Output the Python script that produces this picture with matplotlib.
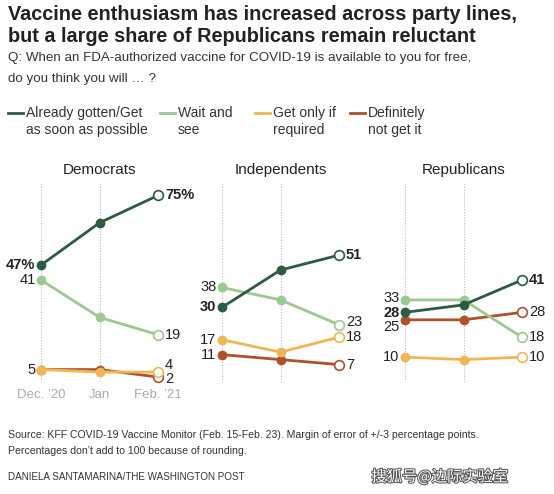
import matplotlib.pyplot as plt
import matplotlib.patheffects as pe

plt.rcParams['font.family'] = ['Liberation Sans', 'DejaVu Sans']

months = ['Dec. \u201920', 'Jan', 'Feb. \u201921']
panels = ['Democrats', 'Independents', 'Republicans']
series = ['Already gotten/Get\nas soon as possible', 'Wait and\nsee',
          'Get only if\nrequired', 'Definitely\nnot get it']
colors = ['#2c5b41', '#9cc98f', '#f0b654', '#b0512c']

dem = [[47, 64, 75], [41, 26, 19], [5, 4, 4], [5, 5, 2]]
ind = [[30, 45, 51], [38, 33, 23], [17, 12, 18], [11, 9, 7]]
rep = [[28, 31, 41], [33, 33, 18], [10, 9, 10], [25, 25, 28]]
data = [dem, ind, rep]

# end labels: (text, y position of label) for left / right
left_labels = [
    [('47%', 47), ('41', 41), None, ('5', 5)],
    [('30', 30), ('38', 38), ('17', 17), ('11', 11)],
    [('28', 27.7), ('33', 33.6), ('10', 10), ('25', 22.0)],
]
right_labels = [
    [('75%', 75), ('19', 19), ('4', 6.9), ('2', 1.4)],
    [('51', 51), ('23', 24), ('18', 18), ('7', 7)],
    [('41', 41), ('18', 18), ('10', 10), ('28', 28)],
]

W, H = 554, 494
fig = plt.figure(figsize=(W / 100, H / 100), dpi=100)
txt = '#222222'

fig.text(8 / W, 1 - 15 / H, 'Vaccine enthusiasm has increased across party lines,',
         fontsize=14.3, fontweight='bold', color=txt, va='center')
fig.text(8 / W, 1 - 37 / H, 'but a large share of Republicans remain reluctant',
         fontsize=14.3, fontweight='bold', color=txt, va='center')
fig.text(8 / W, 1 - 58 / H, 'Q: When an FDA-authorized vaccine for COVID-19 is available to you for free,',
         fontsize=9.65, color='#333333', va='center')
fig.text(8 / W, 1 - 79 / H, 'do you think you will \u2026 ?',
         fontsize=9.65, color='#333333', va='center')

# legend
leg_x = [8, 160, 255, 350]
for lx, lab, c in zip(leg_x, series, colors):
    fig.add_artist(plt.Line2D([lx / W, (lx + 15) / W], [1 - 113 / H] * 2, color=c, lw=2))
    fig.text((lx + 18) / W, 1 - 106 / H, lab, fontsize=10, color='#333333',
             va='top', linespacing=1.25)

ax_left = [41, 222, 405]
ax_w = 117
y_top, y_bot = 183, 382
for k in range(3):
    ax = fig.add_axes([ax_left[k] / W, 1 - y_bot / H, ax_w / W, (y_bot - y_top) / H])
    ax.set_xlim(0, 2)
    ax.set_ylim(0, 80)
    ax.axis('off')
    for xi in range(3):
        ax.plot([xi, xi], [0, 80], color='#bbbbbb', lw=0.8, ls=(0, (1, 1.5)), zorder=0)
    for s in [3, 2, 1, 0]:
        vals = data[k][s]
        ax.plot(range(3), vals, color=colors[s], lw=2, clip_on=False, zorder=2 + (3 - s))
        ax.plot([0, 1], vals[:2], 'o', color=colors[s], ms=6, clip_on=False, zorder=3 + (3 - s))
        ax.plot([2], vals[2:], 'o', mfc='white', mec=colors[s], mew=1.2, ms=7,
                clip_on=False, zorder=3 + (3 - s))
    for s in range(4):
        w = 'bold' if s == 0 else 'normal'
        lab = left_labels[k][s]
        if lab:
            ax.annotate(lab[0], (0, lab[1]), xytext=(-4, 0), textcoords='offset points',
                        ha='right', va='center', fontsize=10.5, fontweight=w, color=txt)
        lab = right_labels[k][s]
        ax.annotate(lab[0], (2, lab[1]), xytext=(5, 0), textcoords='offset points',
                    ha='left', va='center', fontsize=10.5, fontweight=w, color=txt)
    fig.text((ax_left[k] + ax_w / 2) / W, 1 - 170 / H, panels[k], fontsize=11,
             color=txt, ha='center', va='center')
    if k == 0:
        for xi, m in enumerate(months):
            fig.text((ax_left[k] + xi * ax_w / 2) / W, 1 - 395 / H, m, fontsize=9.5,
                     color='#aaaaaa', ha='center', va='center')

fig.text(8 / W, 1 - 435 / H, 'Source: KFF COVID-19 Vaccine Monitor (Feb. 15-Feb. 23). '
         'Margin of error of +/-3 percentage points.', fontsize=7.6, color='#333333', va='center')
fig.text(8 / W, 1 - 451 / H, 'Percentages don\u2019t add to 100 because of rounding.',
         fontsize=7.6, color='#333333', va='center')
fig.text(8 / W, 1 - 477 / H, 'DANIELA SANTAMARINA/THE WASHINGTON POST',
         fontsize=7.1, color='#333333', va='center')
fig.text(508 / W, 1 - 477 / H, '搜狐号@边际实验室', fontsize=11, color='white',
         ha='right', va='center', family=['Noto Sans CJK SC', 'DejaVu Sans'],
         path_effects=[pe.withStroke(linewidth=1.5, foreground='#555555')])

fig.savefig('out.png', dpi=100)
